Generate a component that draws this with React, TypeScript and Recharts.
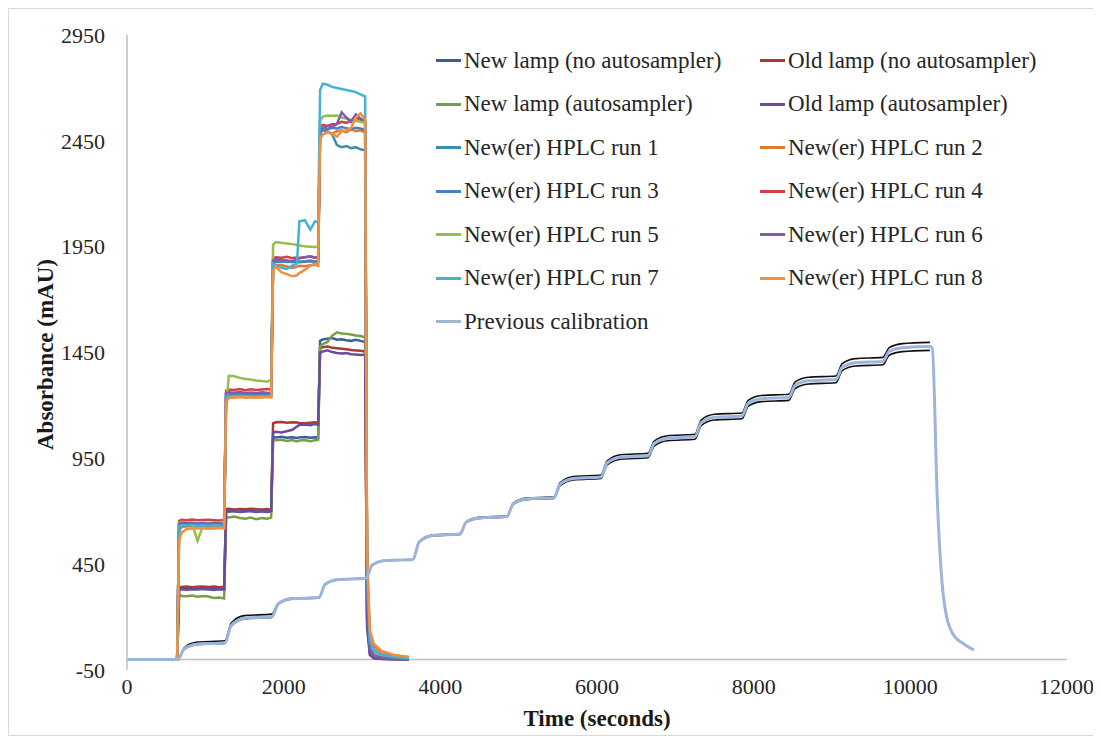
import { LineChart, Line, XAxis, YAxis, Legend, ReferenceLine, Label } from 'recharts';

const SERIF = "'Liberation Serif', 'Times New Roman', serif";

// sample times (s) shared by the lamp / HPLC step runs
const hplcTimes = [
  0, 640,
  665, 700, 760, 830, 900, 970, 1040, 1110, 1180, 1240,
  1265, 1300, 1370, 1440, 1510, 1580, 1650, 1720, 1790, 1840,
  1865, 1900, 1970, 2040, 2110, 2170, 2200, 2270, 2340, 2400, 2440,
  2465, 2500, 2560, 2620, 2680, 2740, 2800, 2860, 2920, 2980, 3040,
  3065, 3100, 3150, 3250, 3400, 3600,
];

const newLampNoAuto = [
  0, 0,
  335, 338, 336, 334, 337, 335, 333, 336, 334, 332,
  705, 702, 700, 698, 702, 700, 697, 701, 699, 700,
  1050, 1048, 1052, 1047, 1050, 1046, 1049, 1051, 1047, 1050, 1048,
  1505, 1512, 1515, 1518, 1510, 1512, 1508, 1505, 1510, 1505, 1500,
  180, 30, 8, 3, 1, 0,
];
const oldLampNoAuto = [
  0, 0,
  340, 342, 344, 341, 343, 345, 342, 344, 341, 343,
  710, 712, 708, 711, 709, 712, 710, 708, 711, 706,
  1115, 1120, 1122, 1118, 1121, 1119, 1117, 1116, 1118, 1120, 1115,
  1470, 1475, 1478, 1472, 1470, 1468, 1465, 1462, 1460, 1458, 1455,
  200, 40, 12, 5, 2, 0,
];
const newLampAuto = [
  0, 0,
  305, 300, 298, 302, 296, 300, 297, 290, 292, 288,
  672, 670, 675, 668, 665, 670, 662, 668, 665, 670,
  1040, 1035, 1038, 1032, 1036, 1030, 1034, 1037, 1031, 1035, 1038,
  1480, 1490, 1500, 1530, 1545, 1540, 1538, 1535, 1530, 1528, 1522,
  220, 45, 14, 6, 2, 0,
];
const oldLampAuto = [
  0, 0,
  330, 332, 329, 331, 330, 333, 330, 328, 331, 330,
  700, 698, 701, 697, 699, 702, 698, 700, 697, 701,
  1070, 1075, 1072, 1078, 1085, 1100, 1108, 1110, 1106, 1112, 1108,
  1450, 1455, 1460, 1452, 1448, 1445, 1447, 1442, 1440, 1438, 1440,
  150, 20, 5, 2, 1, 0,
];
const run1 = [
  0, 0,
  635, 640, 638, 641, 636, 639, 637, 640, 638, 636,
  1245, 1250, 1248, 1252, 1246, 1250, 1247, 1249, 1251, 1248,
  1880, 1885, 1882, 1878, 1880, 1883, 1879, 1881, 1884, 1880, 1882,
  2490, 2500, 2495, 2480, 2430, 2420, 2425, 2415, 2420, 2410, 2405,
  400, 80, 40, 20, 10, 5,
];
const run2 = [
  0, 0,
  610, 625, 628, 630, 627, 629, 626, 628, 630, 627,
  1235, 1240, 1238, 1242, 1236, 1240, 1237, 1239, 1241, 1238,
  1860, 1865, 1862, 1858, 1850, 1855, 1860, 1858, 1862, 1865, 1860,
  2470, 2480, 2490, 2485, 2495, 2500, 2490, 2505, 2495, 2500, 2490,
  450, 110, 60, 35, 18, 10,
];
const run3 = [
  0, 0,
  640, 645, 643, 646, 642, 644, 641, 645, 643, 642,
  1255, 1258, 1256, 1259, 1254, 1257, 1255, 1258, 1256, 1255,
  1875, 1880, 1878, 1882, 1877, 1880, 1876, 1879, 1881, 1878, 1880,
  2500, 2510, 2505, 2512, 2508, 2515, 2510, 2505, 2512, 2508, 2500,
  350, 70, 35, 18, 8, 4,
];
const run4 = [
  0, 0,
  655, 660, 658, 661, 657, 659, 660, 658, 656, 659,
  1270, 1275, 1273, 1277, 1272, 1276, 1273, 1275, 1277, 1274,
  1895, 1900, 1898, 1902, 1896, 1899, 1897, 1900, 1903, 1898, 1900,
  2515, 2525, 2520, 2528, 2530, 2540, 2535, 2545, 2560, 2550, 2540,
  400, 80, 40, 20, 10, 5,
];
const run5 = [
  0, 0,
  645, 650, 647, 644, 560, 630, 642, 646, 640, 645,
  1200, 1340, 1338, 1330, 1325, 1322, 1318, 1315, 1312, 1320,
  1960, 1972, 1968, 1965, 1962, 1958, 1955, 1952, 1950, 1948, 1950,
  2545, 2565, 2570, 2568, 2570, 2560, 2555, 2550, 2545, 2540, 2535,
  380, 75, 38, 20, 10, 5,
];
const run6 = [
  0, 0,
  640, 645, 642, 644, 640, 643, 641, 644, 642, 640,
  1258, 1262, 1260, 1263, 1259, 1261, 1258, 1262, 1260, 1259,
  1885, 1890, 1888, 1885, 1882, 1890, 1895, 1900, 1905, 1898, 1900,
  2500, 2510, 2520, 2515, 2530, 2585, 2560, 2540, 2575, 2555, 2545,
  300, 50, 20, 8, 3, 1,
];
const run7 = [
  0, 0,
  630, 635, 633, 636, 632, 634, 631, 635, 633, 630,
  1240, 1245, 1243, 1246, 1241, 1244, 1240, 1245, 1243, 1241,
  1870, 1860, 1850, 1845, 1860, 1870, 2070, 2075, 2030, 2070, 2065,
  2690, 2720, 2715, 2705, 2700, 2695, 2690, 2685, 2680, 2670, 2660,
  420, 90, 45, 22, 11, 6,
];
const run8 = [
  0, 0,
  560, 600, 615, 620, 618, 620, 617, 619, 621, 618,
  1215, 1235, 1240, 1238, 1242, 1237, 1240, 1238, 1241, 1239,
  1840, 1855, 1830, 1820, 1810, 1815, 1825, 1840, 1860, 1870, 1865,
  2460, 2480, 2490, 2485, 2470, 2495, 2500, 2510, 2560, 2580, 2550,
  500, 140, 75, 40, 22, 12,
];

// previous calibration staircase (slow first-order steps)
const calTimes = [
  0, 650, 730, 900, 1250, 1330, 1500, 1850, 1930, 2100, 2450, 2530, 2700, 3050,
  3130, 3300, 3650, 3730, 3900, 4250, 4330, 4500, 4850, 4930, 5100, 5450,
  5530, 5700, 6050, 6130, 6300, 6650, 6730, 6900, 7250, 7330, 7500, 7850,
  7930, 8100, 8450, 8530, 8700, 9050, 9130, 9300, 9650, 9730, 9900, 10250,
];
const prevCalibration = [
  0, 0, 50, 72, 78, 160, 195, 202, 262, 287, 292, 355, 377, 383,
  445, 467, 472, 555, 585, 592, 648, 668, 675, 735, 758, 764,
  828, 855, 862, 928, 955, 962, 1020, 1045, 1052, 1118, 1144, 1150,
  1210, 1232, 1238, 1295, 1316, 1322, 1380, 1402, 1408, 1455, 1472, 1478,
];
const calDropTimes = [10280, 10345, 10425, 10535, 10675, 10810];
const prevCalibrationDrop = [1470, 750, 290, 125, 75, 45];
// black traces sitting just above / below the previous calibration
const blackUpper = [
  0, 0, 55, 82, 88, 172, 207, 214, 265, 289, 294, 356, 378, 384,
  446, 468, 473, 557, 588, 595, 651, 671, 678, 738, 762, 768,
  835, 864, 871, 938, 967, 974, 1031, 1057, 1064, 1131, 1158, 1164,
  1224, 1247, 1253, 1311, 1333, 1339, 1397, 1421, 1427, 1473, 1492, 1498,
];
const blackLower = [
  0, 0, 48, 70, 76, 156, 191, 198, 260, 285, 290, 354, 376, 382,
  444, 466, 471, 553, 583, 590, 646, 666, 673, 732, 755, 761,
  821, 848, 855, 919, 946, 953, 1008, 1033, 1040, 1105, 1131, 1137,
  1196, 1218, 1224, 1280, 1301, 1307, 1364, 1386, 1392, 1437, 1454, 1460,
];

const xTicks = [0, 2000, 4000, 6000, 8000, 10000, 12000];
const yTicks = [-50, 450, 950, 1450, 1950, 2450, 2950];

const toPoints = (times: number[], values: number[]) => times.map((t, i) => ({ t, v: values[i] }));

const stepSeries = [
  { name: 'New lamp (no autosampler)', values: newLampNoAuto, color: '#3A5D9C' },
  { name: 'Old lamp (no autosampler)', values: oldLampNoAuto, color: '#A83A36' },
  { name: 'New lamp (autosampler)', values: newLampAuto, color: '#77A043' },
  { name: 'Old lamp (autosampler)', values: oldLampAuto, color: '#6A4C9C' },
  { name: 'New(er) HPLC run 1', values: run1, color: '#3D8FB0' },
  { name: 'New(er) HPLC run 2', values: run2, color: '#E07B32' },
  { name: 'New(er) HPLC run 3', values: run3, color: '#4A7EC6' },
  { name: 'New(er) HPLC run 4', values: run4, color: '#CF4442' },
  { name: 'New(er) HPLC run 5', values: run5, color: '#94BF4E' },
  { name: 'New(er) HPLC run 6', values: run6, color: '#7E5DAF' },
  { name: 'New(er) HPLC run 7', values: run7, color: '#45B1D3' },
  { name: 'New(er) HPLC run 8', values: run8, color: '#F39040' },
];
const PREV_COLOR = '#9DB5DB';
const legendItems = [...stepSeries.map((s) => ({ name: s.name, color: s.color })), { name: 'Previous calibration', color: PREV_COLOR }];

const prevData = toPoints([...calTimes, ...calDropTimes], [...prevCalibration, ...prevCalibrationDrop]);

function renderLegend() {
  return (
    <div style={{ display: 'grid', gridTemplateColumns: '324px 300px', gridAutoRows: '43.5px', fontFamily: SERIF, fontSize: 23, color: '#262626' }}>
      {legendItems.map((item) => (
        <div key={item.name} style={{ display: 'flex', alignItems: 'center', whiteSpace: 'nowrap', fontFamily: SERIF }}>
          <span style={{ display: 'inline-block', width: 25, height: 3, background: item.color, marginRight: 3 }} />
          <span style={{ fontFamily: SERIF }}>{item.name}</span>
        </div>
      ))}
    </div>
  );
}

export default function App() {
  return (
    <div style={{ width: 1085, height: 726, border: '1px solid #d9d9d9', background: '#fff' }}>
      <LineChart width={1085} height={726} margin={{ top: 26, right: 27, left: 0, bottom: 0 }}>
        <XAxis
          type="number"
          dataKey="t"
          domain={[0, 12000]}
          ticks={xTicks}
          allowDuplicatedCategory={false}
          axisLine={false}
          tickLine={false}
          height={65}
          tick={{ fontSize: 22, fill: '#262626', fontFamily: SERIF }}
        >
          <Label
            content={({ viewBox }: any) => (
              <text x={viewBox.x + viewBox.width / 2} y={viewBox.y + 48} textAnchor="middle" dominantBaseline="central" fontFamily={SERIF} fontSize={23} fontWeight="bold" fill="#1a1a1a">
                Time (seconds)
              </text>
            )}
          />
        </XAxis>
        <YAxis
          type="number"
          domain={[-50, 2950]}
          ticks={yTicks}
          width={118}
          axisLine={{ stroke: '#bfbfbf', strokeWidth: 1.5 }}
          tickLine={false}
          tickSize={6}
          tickMargin={16}
          tick={{ fontSize: 22, fill: '#262626', fontFamily: SERIF }}
        >
          <Label
            content={({ viewBox }: any) => {
              const cx = viewBox.x + 36;
              const cy = viewBox.y + viewBox.height / 2 + 2;
              return (
                <text x={cx} y={cy} transform={`rotate(-90, ${cx}, ${cy})`} textAnchor="middle" dominantBaseline="central" fontFamily={SERIF} fontSize={23} fontWeight="bold" fill="#1a1a1a">
                  Absorbance (mAU)
                </text>
              );
            }}
          />
        </YAxis>
        <ReferenceLine y={0} stroke="#bfbfbf" strokeWidth={1.5} />
        <Legend
          content={renderLegend}
          layout="horizontal"
          verticalAlign="middle"
          align="center"
          wrapperStyle={{ position: 'absolute', left: 427, top: 30, width: 640 }}
        />
        {stepSeries.map((s) => (
          <Line
            key={s.name}
            name={s.name}
            data={toPoints(hplcTimes, s.values)}
            dataKey="v"
            type="linear"
            stroke={s.color}
            strokeWidth={2.5}
            dot={false}
            isAnimationActive={false}
          />
        ))}
        <Line name="upper" legendType="none" data={toPoints(calTimes, blackUpper)} dataKey="v" type="monotone" stroke="#111" strokeWidth={1.6} dot={false} isAnimationActive={false} />
        <Line name="lower" legendType="none" data={toPoints(calTimes, blackLower)} dataKey="v" type="monotone" stroke="#111" strokeWidth={1.6} dot={false} isAnimationActive={false} />
        <Line name="Previous calibration" data={prevData} dataKey="v" type="monotone" stroke={PREV_COLOR} strokeWidth={3} dot={false} isAnimationActive={false} />
      </LineChart>
    </div>
  );
}
